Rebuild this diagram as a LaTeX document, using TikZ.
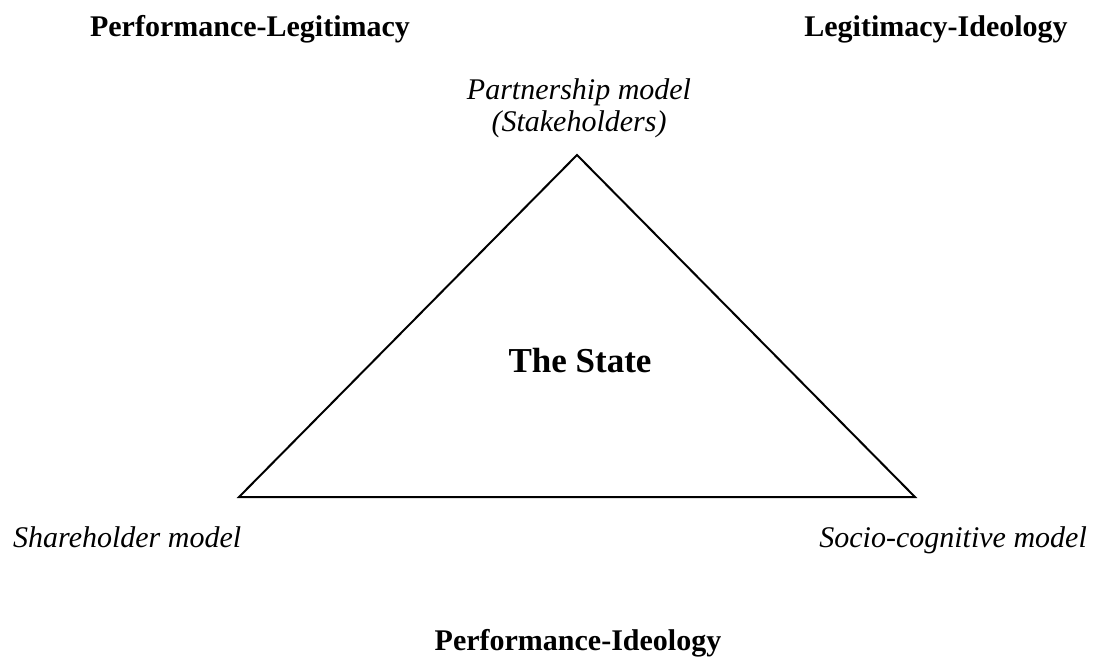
\documentclass[tikz,border=0pt]{standalone}
\usepackage{fontspec}
\setmainfont{Liberation Serif}
\begin{document}
\begin{tikzpicture}[x=1pt,y=-1pt,
  axislabel/.style={font=\fontsize{30}{32}\selectfont\bfseries, inner sep=0pt, anchor=base},
  modellabel/.style={font=\fontsize{30}{32}\selectfont\itshape, inner sep=0pt, anchor=base},
  centrelabel/.style={font=\fontsize{35}{40}\selectfont\bfseries, inner sep=0pt, anchor=base},
  edge/.style={draw=black, line width=2pt, line join=miter}]
  \useasboundingbox (0,0) rectangle (1096,663);

  % corners of the triangle
  \coordinate (apex) at (577,155);
  \coordinate (left) at (239,497);
  \coordinate (right) at (915,497);
  \draw[edge] (apex) -- (left) -- (right) -- cycle;

  % dimension labels
  \node[axislabel] (perflegit) at (250,37) {Performance-Legitimacy};
  \node[axislabel] (legitideo) at (936,37) {Legitimacy-Ideology};
  \node[axislabel] (perfideo) at (578,650) {Performance-Ideology};

  % models at the corners
  \node[modellabel] (partner) at (579,100) {Partnership model};
  \node[modellabel] (stake) at (579,132) {(Stakeholders)};
  \node[modellabel, anchor=base west] (share) at (13,547) {Shareholder model};
  \node[modellabel, anchor=base east] (socio) at (1087,547) {Socio-cognitive model};

  \node[centrelabel] (state) at (580,372) {The State};
\end{tikzpicture}
\end{document}
